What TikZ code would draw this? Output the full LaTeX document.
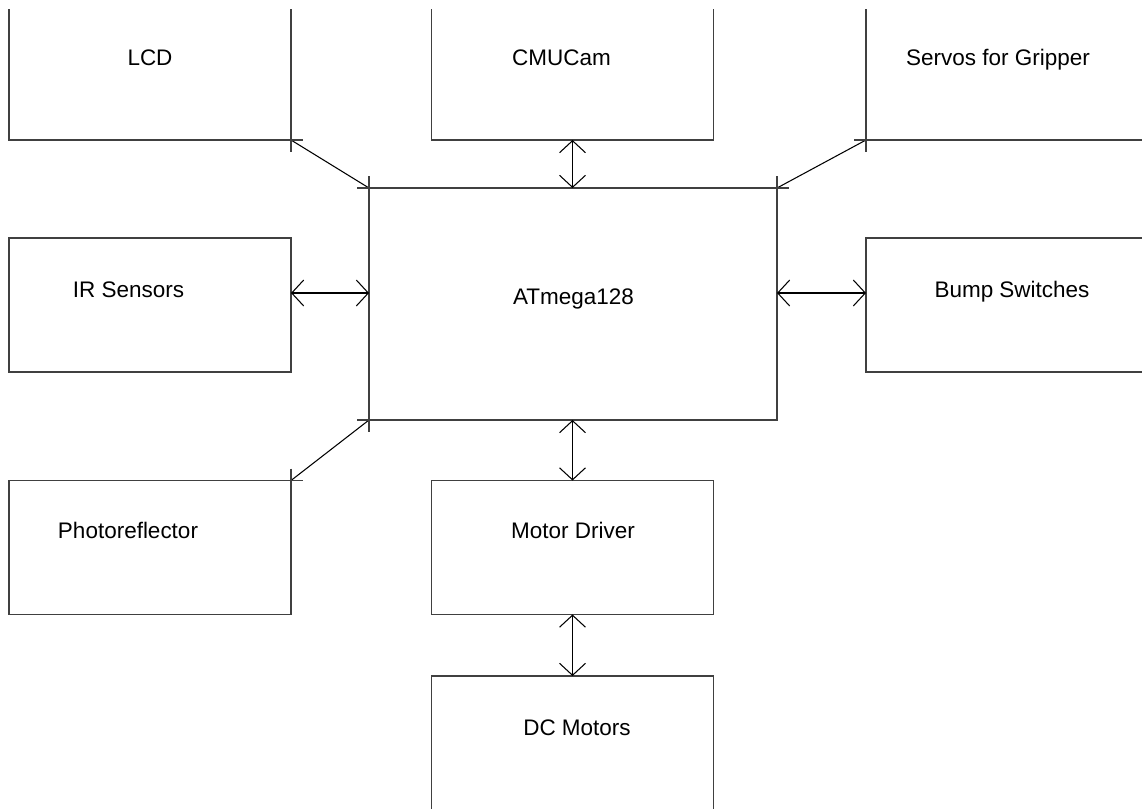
\documentclass[tikz,border=0pt]{standalone}
\usepackage{fontspec}
\setmainfont{Liberation Sans}
\usetikzlibrary{arrows.meta}

\begin{document}
\begin{tikzpicture}[
    x=0.02cm, y=-0.02cm,
    font=\fontsize{12.8}{15}\selectfont,
    block/.style={
        rectangle, draw=black!75, line width=0.7pt,
        minimum width=5.64cm, minimum height=2.68cm,
        inner sep=0pt, outer sep=0pt
    },
    mcu/.style={block, minimum width=8.16cm, minimum height=4.64cm},
    lbl/.style={anchor=base, inner sep=0pt},
    link/.style={{Straight Barb[length=6.8pt,width=14.7pt]}-{Straight Barb[length=6.8pt,width=14.7pt]}, line width=0.6pt, draw=black},
    wire/.style={line width=0.6pt, draw=black},
    tick/.style={line width=0.7pt, draw=black!75}
]
\useasboundingbox (0,0) rectangle (1142,808);
\clip (0,9) rectangle (1142,808);

% ============ Blocks ============
\node[block] (lcd) at (150,73) {};
\node[block] (cmu) at (572.5,73) {};
\node[block] (servo) at (1007,73) {};
\node[block] (ir) at (150,305) {};
\node[mcu] (atm) at (573,304) {};
\node[block] (bump) at (1007,305) {};
\node[block] (photo) at (150,547.5) {};
\node[block] (mdrv) at (572.5,547.5) {};
\node[block] (dcm) at (572.5,743) {};

% ============ Labels ============
\node[lbl] (lcdtxt) at (150,65) {LCD};
\node[lbl] (cmutxt) at (561.5,65) {CMUCam};
\node[lbl] (servotxt) at (998,65) {Servos for Gripper};
\node[lbl] (irtxt) at (128.5,297) {IR Sensors};
\node[lbl] (atmtxt) at (573.5,304) {ATmega128};
\node[lbl] (bumptxt) at (1012,297) {Bump Switches};
\node[lbl] (phototxt) at (128,538) {Photoreflector};
\node[lbl] (mdrvtxt) at (573,538) {Motor Driver};
\node[lbl] (dcmtxt) at (577,735) {DC Motors};

% ============ Links ============
\draw[link] (cmu.south) -- (cmu.south |- atm.north);
\draw[link] ([yshift=0.24cm]ir.east) -- ([yshift=0.24cm]ir.east -| atm.west);
\draw[link] ([yshift=0.24cm]bump.west) -- ([yshift=0.24cm]bump.west -| atm.east);
\draw[link] (mdrv.north) -- (mdrv.north |- atm.south);
\draw[link] (dcm.north) -- (mdrv.south);

\draw[wire] (lcd.south east) -- (atm.north west);
\draw[wire] (servo.south west) -- (atm.north east);
\draw[wire] (photo.north east) -- (atm.south west);

% corner marks
\foreach \c in {lcd.south east, servo.south west, atm.north west, atm.north east, atm.south west, photo.north east}
    \draw[tick] (\c) +(-12,0) -- +(12,0) +(0,-12) -- +(0,12);

\end{tikzpicture}
\end{document}
